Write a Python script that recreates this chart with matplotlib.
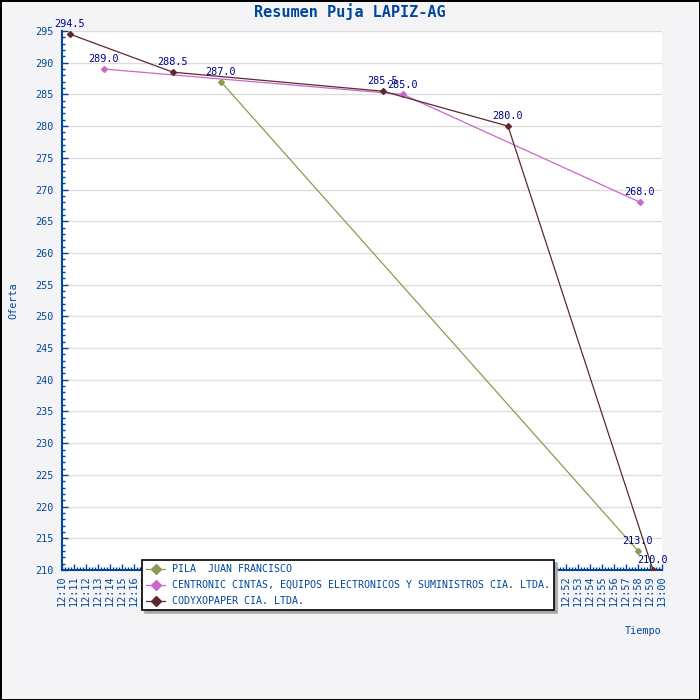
import matplotlib
matplotlib.use('Agg')
import matplotlib.pyplot as plt
import matplotlib.dates as mdates
from matplotlib.ticker import MultipleLocator
import datetime as dt

# datos
names = ['PILA  JUAN FRANCISCO',
         'CENTRONIC CINTAS, EQUIPOS ELECTRONICOS Y SUMINISTROS CIA. LTDA.',
         'CODYXOPAPER CIA. LTDA.']
pila_times = ['12:23:15', '12:58:00']
pila_vals = [287.0, 213.0]
centronic_times = ['12:13:30', '12:38:25', '12:58:10']
centronic_vals = [289.0, 285.0, 268.0]
codyx_times = ['12:10:40', '12:19:15', '12:36:45', '12:47:10', '12:59:15']
codyx_vals = [294.5, 288.5, 285.5, 280.0, 210.0]
colors = ['#8c9a55', '#cc66cc', '#5c2a2e']

def totime(s):
    h, m, sec = [int(x) for x in s.split(':')]
    return dt.datetime(2020, 1, 1, h, m, sec)

blue = '#00479a'
navy = '#000088'
mono = 'DejaVu Sans Mono'

fig = plt.figure(figsize=(7, 7), dpi=100, facecolor='#f4f4f6', edgecolor='black', linewidth=2)
ax = fig.add_axes([62/700, 130/700, 600/700, 539/700])
ax.set_facecolor('white')

series = [(pila_times, pila_vals), (centronic_times, centronic_vals), (codyx_times, codyx_vals)]
for (times, vals), name, c in zip(series, names, colors):
    t = [totime(s) for s in times]
    ax.plot(t, vals, color=c, lw=0.9, marker='D', markersize=3, label=name, zorder=3)
    for ti, v in zip(t, vals):
        ax.annotate('%.1f' % v, (ti, v), xytext=(0, 3.5), textcoords='offset points',
                    ha='center', va='bottom', color=navy, fontsize=7.3, family=mono,
                    zorder=5, annotation_clip=False)

ax.set_xlim(totime('12:10:00'), totime('13:00:00'))
ax.set_ylim(210, 295)
ax.xaxis.set_major_locator(mdates.MinuteLocator(interval=1))
ax.xaxis.set_minor_locator(mdates.SecondLocator(bysecond=[15, 30, 45]))
ax.xaxis.set_major_formatter(mdates.DateFormatter('%H:%M'))
ax.yaxis.set_major_locator(MultipleLocator(5))
ax.yaxis.set_minor_locator(MultipleLocator(1))

for sp in ['top', 'right']:
    ax.spines[sp].set_visible(False)
for sp in ['left', 'bottom']:
    ax.spines[sp].set_color(blue)
    ax.spines[sp].set_linewidth(1.5)

ax.tick_params(which='major', direction='in', length=4, width=1, color=blue,
               labelcolor=blue, labelsize=7.3, pad=6)
ax.tick_params(which='minor', direction='in', length=2, width=1, color=blue)
ax.tick_params(axis='x', which='major', labelrotation=90, pad=4)
for lab in ax.get_xticklabels() + ax.get_yticklabels():
    lab.set_family(mono)

ax.grid(axis='y', which='major', color='#dddddd', lw=1)
ax.set_axisbelow(True)

ax.set_ylabel('Oferta', color=blue, fontsize=7.3, family=mono, labelpad=12)
ax.set_xlabel('Tiempo', color=blue, fontsize=7.3, family=mono, loc='right', labelpad=14)

fig.text(0.5, 1 - 12/700, 'Resumen Puja LAPIZ-AG', ha='center', va='center',
         color=blue, fontsize=11, fontweight='bold', family=mono)

leg = fig.legend(loc='upper left', bbox_to_anchor=(142/700, 1 - 560/700),
                 borderaxespad=0, frameon=True, fancybox=False, edgecolor='black',
                 framealpha=1, shadow={'color': '#aaaaaa', 'alpha': 1}, borderpad=0.4,
                 labelspacing=0.6, handlelength=1.9, handletextpad=0.7, markerscale=1.8,
                 prop={'family': mono, 'size': 7.2})
leg.get_frame().set_linewidth(1.2)
for txt in leg.get_texts():
    txt.set_color(blue)
leg.set_zorder(10)

fig.savefig('out.png', dpi=100)
